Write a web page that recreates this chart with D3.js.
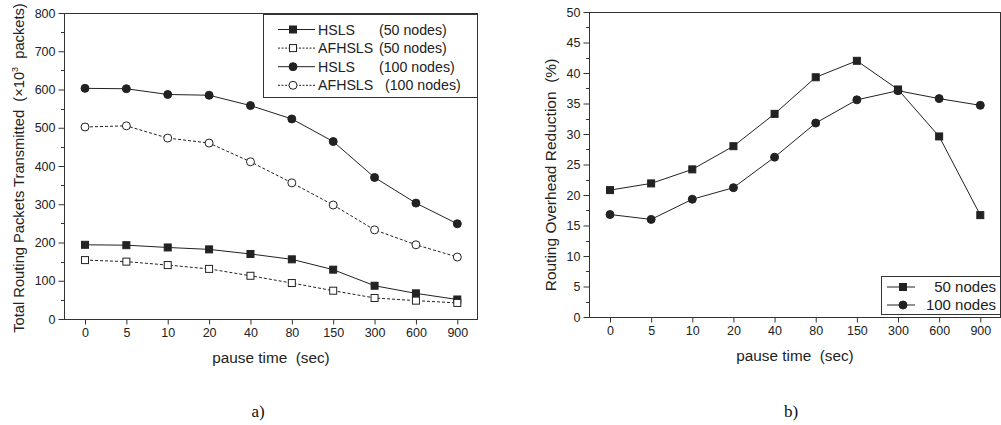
<!DOCTYPE html>
<html><head><meta charset="utf-8">
<script src="https://cdn.jsdelivr.net/npm/d3@7"></script>
<style>
body{margin:0;background:#fff;}
svg{display:block;font-family:"Liberation Sans",Arial,sans-serif;}
svg text{white-space:pre;}
</style></head><body>
<svg id="c" width="1001" height="425"></svg>
<script>
const pauseTimes = ["0","5","10","20","40","80","150","300","600","900"];
const hsls50   = [194, 193, 187, 182, 170, 156, 129, 87, 67, 51];
const afhsls50 = [154, 150, 141, 131, 113, 94, 74, 55, 48, 42];
const hsls100  = [603, 602, 587, 585, 558, 523, 464, 370, 303, 249];
const afhsls100= [502, 505, 473, 460, 411, 356, 298, 233, 194, 162];
const red50    = [20.8, 21.9, 24.2, 28.0, 33.3, 39.3, 42.0, 37.3, 29.6, 16.7];
const red100   = [16.8, 16.0, 19.3, 21.2, 26.2, 31.8, 35.6, 37.1, 35.8, 34.7];
const leftTicks = [0,100,200,300,400,500,600,700,800];
const rightTicks = [0,5,10,15,20,25,30,35,40,45,50];

const svg = d3.select("#c");
const ink = "#222";

function marker(g, type, x, y){
  if(type==="sq"||type==="osq"){
    g.append("rect").attr("x",x-3.5).attr("y",y-3.5).attr("width",7).attr("height",7)
      .attr("fill", type==="sq"?ink:"#fff").attr("stroke",ink).attr("stroke-width",1);
  } else {
    g.append("circle").attr("cx",x).attr("cy",y).attr("r",4)
      .attr("fill", type==="ci"?ink:"#fff").attr("stroke",ink).attr("stroke-width",1);
  }
}

function panel(o){
  const g = svg.append("g");
  const x = d3.scalePoint().domain(pauseTimes).range([o.x0+21, o.x1-20.7]);
  const y = d3.scaleLinear().domain([0,o.ymax]).range([o.y1,o.y0]);
  g.append("rect").attr("x",o.x0+0.5).attr("y",o.y0+0.5).attr("width",o.x1-o.x0-1).attr("height",o.y1-o.y0)
    .attr("fill","none").attr("stroke","#333").attr("stroke-width",1);
  g.append("g").selectAll("line").data(d3.range(o.minor, o.ymax, o.minor*2)).join("line")
    .attr("x1",o.x0).attr("x2",o.x0-3).attr("y1",d=>Math.round(y(d))+0.5).attr("y2",d=>Math.round(y(d))+0.5)
    .attr("stroke","#333");
  const ya = d3.axisLeft(y).tickValues(o.ticks).tickSize(6).tickPadding(3).tickFormat(d3.format("d"));
  const yg = g.append("g").attr("transform",`translate(${o.x0+0.5},0)`).call(ya);
  yg.select(".domain").remove();
  yg.selectAll("line").attr("stroke","#333");
  yg.selectAll("text").attr("font-size",12.5).attr("fill","#222").attr("font-family","Liberation Sans, Arial");
  const xa = d3.axisBottom(x).tickSize(5).tickPadding(4);
  const xg = g.append("g").attr("transform",`translate(0,${o.y1+0.5})`).call(xa);
  xg.select(".domain").remove();
  xg.selectAll("line").attr("stroke","#333");
  xg.selectAll("text").attr("font-size",12.5).attr("fill","#222").attr("font-family","Liberation Sans, Arial");
  o.series.forEach(s=>{
    const line = d3.line().x((d,i)=>x(pauseTimes[i])).y(d=>y(d));
    g.append("path").attr("d",line(s.data)).attr("fill","none").attr("stroke",ink).attr("stroke-width",1)
      .attr("stroke-dasharray", s.dash?"3,2":null);
    s.data.forEach((d,i)=>marker(g, s.mk, x(pauseTimes[i]), y(d)));
  });
  g.append("text").attr("x",(o.x0+o.x1)/2).attr("y",o.y1+44).attr("text-anchor","middle")
    .attr("font-size",15.3).attr("fill","#222").text("pause time  (sec)");
  g.append("text").attr("transform",`translate(${o.ytx},${o.ytcy}) rotate(-90)`).attr("text-anchor","middle")
    .attr("font-size",o.ytfs).attr("fill","#222").html(o.ytitle);
  g.append("text").attr("x",o.labx).attr("y",417).attr("text-anchor","middle")
    .attr("font-family","Liberation Serif, Times New Roman, serif").attr("font-size",17).attr("fill","#111").text(o.lab);
  return {g,x,y};
}

panel({x0:64,x1:478,y0:13,y1:319,ymax:800,ticks:leftTicks,minor:50,
  series:[{data:hsls50,mk:"sq"},{data:afhsls50,mk:"osq",dash:true},{data:hsls100,mk:"ci"},{data:afhsls100,mk:"oci",dash:true}],
  ytx:24, ytcy:168, ytfs:14.7, ytitle:'Total Routing Packets Transmitted  (×10<tspan font-size="9" dy="-6">3</tspan><tspan dy="6">  packets)</tspan>',
  labx:258, lab:"a)"});
panel({x0:589,x1:1001,y0:12,y1:317,ymax:50,ticks:rightTicks,minor:2.5,
  series:[{data:red50,mk:"sq"},{data:red100,mk:"ci"}],
  ytx:556, ytcy:175, ytfs:15.5, ytitle:'Routing Overhead Reduction  (%)', labx:791, lab:"b)"});

const lg = svg.append("g");
lg.append("rect").attr("x",263.5).attr("y",14.5).attr("width",214).attr("height",83).attr("fill","#fff").attr("stroke","#333");
const legL = [
  {mk:"sq",dash:false,name:"HSLS",n:"(50 nodes)",nx:379},
  {mk:"osq",dash:true,name:"AFHSLS",n:"(50 nodes)",nx:379},
  {mk:"ci",dash:false,name:"HSLS",n:"(100 nodes)",nx:379},
  {mk:"oci",dash:true,name:"AFHSLS",n:"(100 nodes)",nx:385}];
legL.forEach((d,i)=>{
  const yy = 29.5 + i*18.6;
  lg.append("line").attr("x1",278).attr("x2",315).attr("y1",yy).attr("y2",yy).attr("stroke",ink)
    .attr("stroke-dasharray",d.dash?"2,1.5":null);
  marker(lg,d.mk,293,yy);
  lg.append("text").attr("x",318).attr("y",yy+5).attr("font-size",14.2).attr("fill","#222").text(d.name);
  lg.append("text").attr("x",d.nx).attr("y",yy+5).attr("font-size",14.2).attr("fill","#222").text(d.n);
});
const rg = svg.append("g");
rg.append("rect").attr("x",881.5).attr("y",276.5).attr("width",119).attr("height",38).attr("fill","#fff").attr("stroke","#333");
[{mk:"sq",t:"50 nodes"},{mk:"ci",t:"100 nodes"}].forEach((d,i)=>{
  const yy = 287 + i*18;
  rg.append("line").attr("x1",887).attr("x2",915).attr("y1",yy).attr("y2",yy).attr("stroke",ink);
  marker(rg,d.mk,903,yy);
  rg.append("text").attr("x",996).attr("y",yy+5).attr("text-anchor","end").attr("font-size",15).attr("fill","#222").text(d.t);
});
</script></body></html>
